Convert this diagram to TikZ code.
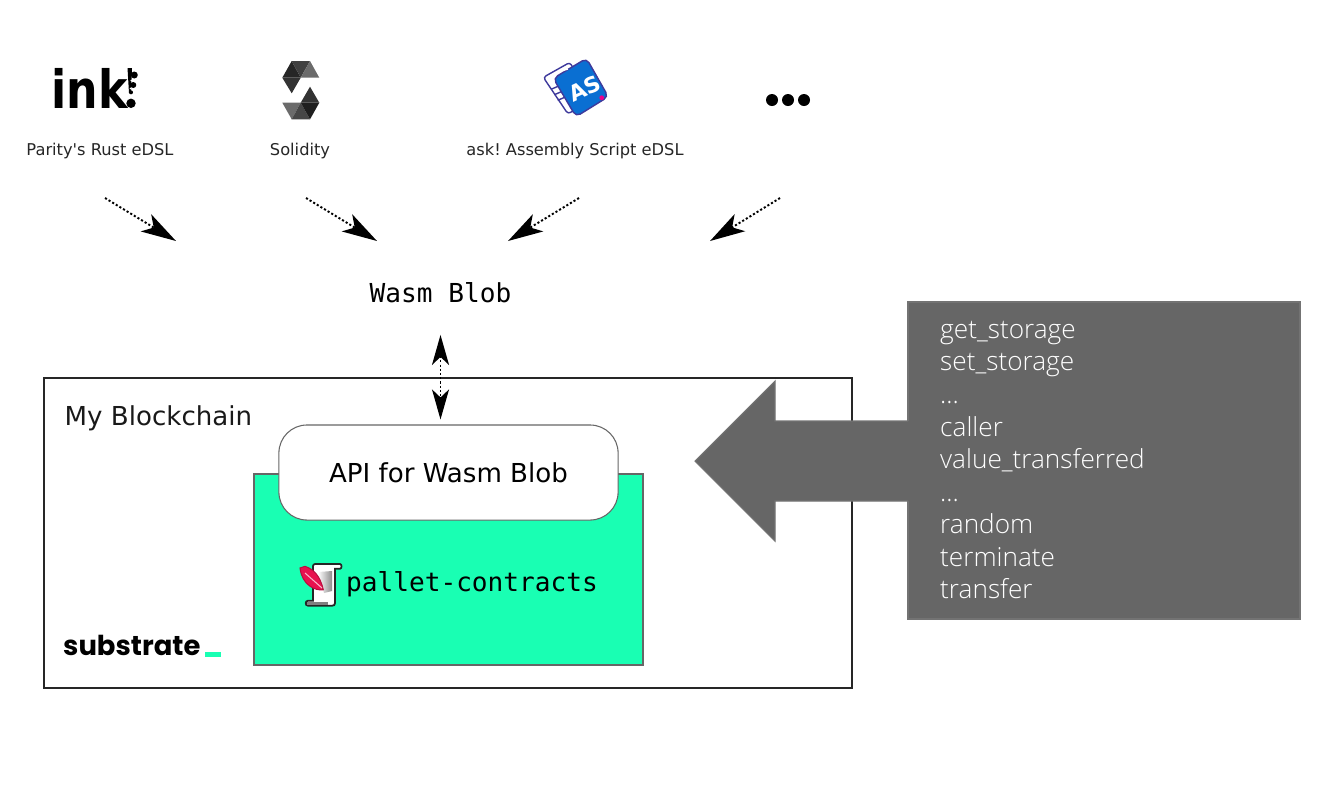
\documentclass[tikz,border=0pt]{standalone}
\usepackage{fontspec}
\setmainfont[Ligatures=TeXOff]{DejaVu Sans}
\setmonofont{DejaVu Sans Mono}
\newfontfamily\hostfont[UprightFont=* Light]{Open Sans}
\newfontfamily\logofont{Poppins}
\newfontfamily\inkfont[FakeStretch=0.84]{DejaVu Sans}
\usetikzlibrary{arrows.meta}
\definecolor{palletgreen}{HTML}{19FFB3}
\definecolor{hostgray}{HTML}{666666}
\definecolor{asblue}{HTML}{0A6FD2}
\definecolor{asline}{HTML}{3E3A9C}
\definecolor{quillred}{HTML}{E8124F}
\frenchspacing
\tikzset{
    flow/.style={dash pattern=on 0.6pt off 0.6pt, line width=0.55pt, -{Stealth[length=.35cm,width=.2cm,inset=.09cm]}},
    biflow/.style={dash pattern=on 0.6pt off 0.6pt, line width=0.55pt, {Stealth[length=.3cm,width=.17cm,inset=.08cm]}-{Stealth[length=.3cm,width=.17cm,inset=.08cm]}},
    langlabel/.style={font=\fontsize{4.62}{5}\selectfont, inner sep=0pt, text=black!85},
    codelabel/.style={font=\ttfamily\fontsize{7.43}{9}\selectfont, inner sep=0pt},
    hostcall/.style={font=\hostfont\fontsize{7.45}{8}\selectfont, text=white, inner sep=0pt, anchor=base west}
}

\begin{document}
\begin{tikzpicture}[x=0.01cm, y=-0.01cm]
    \useasboundingbox (0,0) rectangle (1328,787);

    % language logos
    \node[font=\inkfont\bfseries\fontsize{15}{16}\selectfont, inner sep=0pt, anchor=base west] (inklogo) at (51,108) {ink};
    \fill (127.5,68) -- (132,68) -- (131,93) -- (129,93) -- cycle;
    \fill (131,103.3) circle (4.7);
    \foreach \x/\y/\r in {134.3/75/3.5, 133.3/85/3, 131/92.3/2} { \fill (\x,\y) circle (\r); }
    \fill[white] (131.3,80.5) circle (1); \fill[white] (130.5,88.5) circle (0.8);

    \fill[black!85] (291.7,61) -- (282.3,77.7) -- (300.7,77.7) -- cycle;
    \fill[black!75] (291.7,61) -- (310,61) -- (300.7,77.7) -- cycle;
    \fill[black!58] (310,61) -- (319.3,77.7) -- (300.7,77.7) -- cycle;
    \fill[black!80] (282.3,77.7) -- (300.7,77.7) -- (291.7,93.3) -- cycle;
    \fill[black!80] (310,86.7) -- (300.7,102.7) -- (319.3,102.7) -- cycle;
    \fill[black!58] (282.3,102.7) -- (300.7,102.7) -- (291.7,119.3) -- cycle;
    \fill[black!72] (300.7,102.7) -- (291.7,119.3) -- (310,119.3) -- cycle;
    \fill[black!88] (300.7,102.7) -- (319.3,102.7) -- (310,119.3) -- cycle;

    \draw[asline, line width=0.4pt, fill=white, rounded corners=0.03cm] (570,62.3) -- (543.3,77.3) -- (568,114) -- (590,100) -- cycle;
    \foreach \x/\y in {555/87.3, 558.3/92.7, 561.7/98.3} { \draw[asline, line width=0.4pt] (\x-4,\y+2) -- (\x+3,\y-1); }
    \draw[asline, line width=0.4pt, fill=asblue, rounded corners=0.05cm] (586.5,58.3) -- (608.3,96.7) -- (576,116.7) -- (553.3,78.3) -- cycle;
    \draw[white, line width=0.4pt] (562.5,70.5) -- (568,69);
    \node[rotate=25, text=white, font=\bfseries\fontsize{6.2}{7}\selectfont, inner sep=0pt] (aslogo) at (585,88.5) {AS};
    \fill[magenta] (601.7,97.7) circle (2.4);

    \foreach \x in {772,788,804} { \fill (\x,100) circle (6); }

    % language names
    \node[langlabel] (parity) at (100,151) {Parity's Rust eDSL};
    \node[langlabel] (solidity) at (300,151) {Solidity};
    \node[langlabel] (ask) at (575,151) {ask! Assembly Script eDSL};

    \foreach \a/\b/\c/\d in {105/198/176/241, 306/198/377/241, 579/198/508/241, 780/198/710/241} {
        \coordinate (from) at (\a,\b); \coordinate (to) at (\c,\d);
        \draw[flow] (from) -- (to);
    }

    \node[codelabel] (wasm) at (440.5,293) {Wasm Blob};

    % blockchain frame
    \draw[line width=0.6pt, black!85] (44,378) rectangle (852,688);
    \node[font=\fontsize{7.42}{9}\selectfont, inner sep=0pt, anchor=west, text=black!90] (chain) at (64,418) {My Blockchain};

    \draw[line width=0.3pt, fill=palletgreen, draw=black!60] (254,474) rectangle (643,665);
    \node[draw=black!60, line width=0.3pt, fill=white, rounded corners=0.28cm, minimum width=3.39cm, minimum height=0.95cm, font=\fontsize{7.42}{9}\selectfont, inner sep=0pt] (api) at (448.5,472.5) {API for Wasm Blob};
    \draw[biflow, shorten <=0.31cm, shorten >=0.05cm] (wasm.south) -- (wasm.south |- api.north);

    % scroll with quill
    \draw[line width=0.5pt, draw=black!85, fill=white] (315,564) -- (340,564) .. controls (342,564) and (342,568.7) .. (340,568.7) -- (335,568.7) -- (335,603) .. controls (335,605) and (334,605.7) .. (332,605.7) -- (308,605.7) .. controls (305,605.7) and (305,600.7) .. (308,600.7) -- (313,600.7) -- (313,566) .. controls (313,565) and (314,564) .. (315,564) -- cycle;
    \fill[black!50] (306.5,601.7) rectangle (328,604.7);
    \shade[left color=white, right color=black!45] (318,572) -- (332,571) -- (332,591) -- (324,593) -- cycle;
    \draw[line width=0.3pt, draw=quillred!80!black, fill=quillred] (300,568) -- (305,566.3) .. controls (313,569) and (320,575) .. (323.3,589.7) .. controls (315,591) and (302,585) .. (300,568) -- cycle;
    \draw[white!70!quillred, line width=0.3pt] (305,573) -- (322,588);
    \node[codelabel] (pallet) at (472,584) {pallet-contracts};

    \node[inner sep=0pt, anchor=base west, font=\logofont\bfseries\fontsize{7.8}{9}\selectfont] (substrate) at (62.5,655) {substrate};
    \fill[palletgreen] (205,652) rectangle (221,657);

    % host functions
    \draw[line width=0.3pt, fill=hostgray, draw=black!55] (908,302) rectangle (1300,619);
    \fill[hostgray] (910,421) -- (775,421) -- (775,381) -- (695,461) -- (775,541) -- (775,501) -- (910,501) -- cycle;
    \draw[line width=0.3pt, draw=black!55] (908,421) -- (775,421) -- (775,381) -- (695,461) -- (775,541) -- (775,501) -- (908,501);
    \foreach \y/\name in {338/get\_storage, 370.6/set\_storage, 403.2/{\ldots}, 436/caller, 468.4/value\_transferred, 501/{\ldots}, 533.6/random, 566/terminate, 598.8/transfer} {
        \node[hostcall] (call\y) at (939.5,\y) {\name};
    }
\end{tikzpicture}
\end{document}
